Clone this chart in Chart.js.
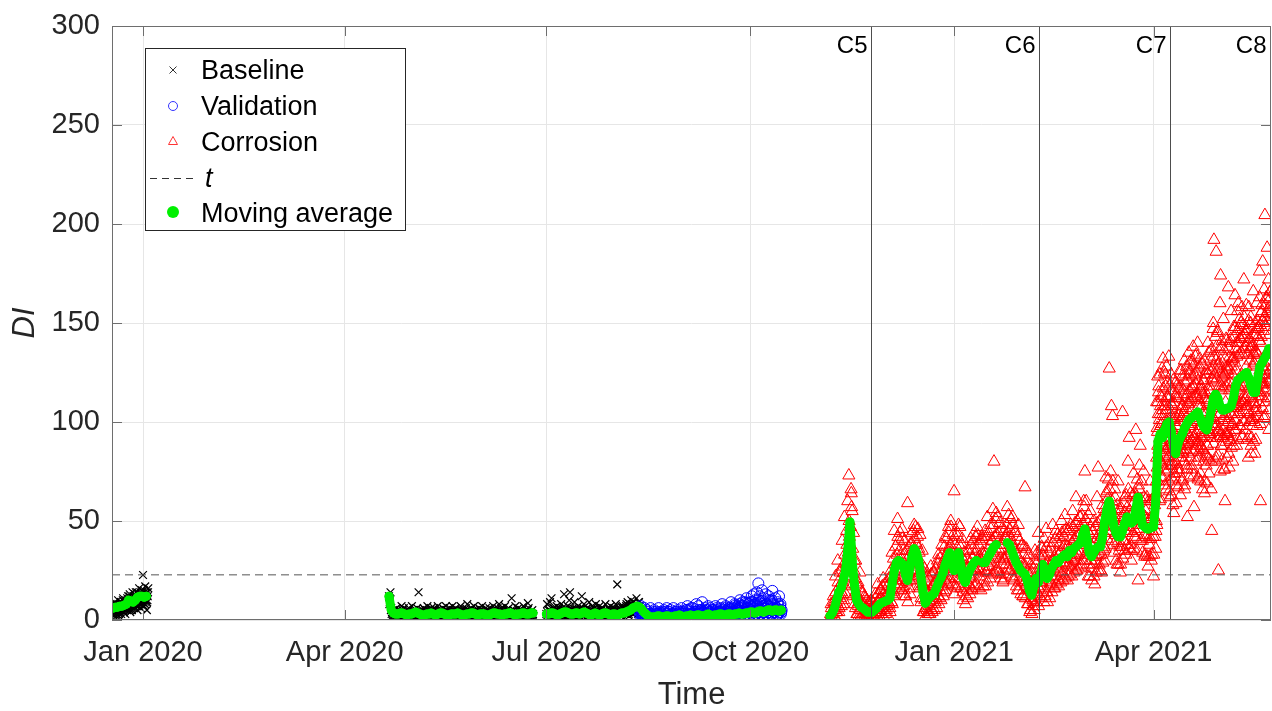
<!DOCTYPE html>
<html lang="en">
<head>
  <meta charset="UTF-8">
  <title>DI over time</title>
  <script src="https://cdn.jsdelivr.net/npm/chart.js"></script>
  <style>
    html, body { margin: 0; padding: 0; background: #fff; overflow: hidden; }
    #wrap { width: 1272px; height: 711px; position: relative; }
    canvas { display: block; }
  </style>
</head>
<body>
  <div id="wrap"><canvas id="diChart"></canvas></div>

  <script>
    // x is counted in days from 1 Jan 2020
    const xMin = -14, xMax = 509;
    const tickDays = [0, 91, 182, 274, 366, 456];
    const tickLabels = ['Jan 2020', 'Apr 2020', 'Jul 2020', 'Oct 2020', 'Jan 2021', 'Apr 2021'];
    const yMin = 0, yMax = 300, yStep = 50;

    const threshold = 22.8;
    const eventDays = [328.3, 404.2, 463.3, 508.7];
    const eventLabels = ['C5', 'C6', 'C7', 'C8'];

    // baseline, December block (from day -13.5, every 6 h, two interleaved runs)
    const baselineDec = [
      3, 7, 5, 9, 4, 8, 2, 6, 6, 10, 5, 3, 7, 4, 9, 6,
      8, 5, 11, 4, 6, 9, 3, 7, 10, 5, 8, 12, 6, 9, 13, 4,
      7, 11, 5, 14, 9, 6, 12, 8, 10, 14, 7, 11, 5, 9, 13, 16,
      8, 12, 6, 10, 15, 9, 22.7, 11, 7, 13, 17, 9, 12, 5, 10, 14
    ];
    const baselineDec2 = [
      5, 2, 8, 4, 6, 3, 7, 5, 4, 8, 2, 6, 5, 9, 3, 7,
      6, 10, 4, 8, 7, 5, 9, 6, 8, 11, 6, 9, 7, 12, 5, 10,
      9, 6, 11, 8, 12, 7, 10, 13, 8, 11, 9, 14, 10, 7, 12, 9,
      11, 14, 8, 13, 10, 12, 9, 15, 11, 8, 13, 10, 14, 9, 12, 16
    ];
    // baseline, spring block (from day 111, every 8 h)
    const baselineSpring = [
      12, 9, 14, 6, 4, 3, 2, 5, 1, 3, 6, 2, 4, 1, 3, 5, 2, 7,
      1, 3, 6, 2, 4, 1, 5, 2, 3, 6, 1, 4, 2, 7, 3, 1, 5, 2,
      4, 2, 6, 3, 14, 1, 5, 2, 4, 1, 3, 6, 2, 5, 1, 4, 7, 3,
      1, 4, 2, 6, 3, 5, 2, 6, 4, 3, 1, 5, 7, 2, 4, 1, 5, 3,
      3, 6, 1, 4, 2, 7, 5, 3, 1, 2, 6, 4, 1, 4, 7, 3, 2, 5,
      6, 2, 4, 1, 5, 3, 3, 7, 2, 5, 1, 4, 2, 4, 6, 3, 8, 1,
      5, 2, 3, 6, 1, 4, 2, 7, 4, 3, 5, 1, 4, 2, 6, 1, 3, 5,
      7, 3, 1, 4, 2, 6, 2, 5, 3, 1, 6, 4, 3, 1, 5, 7, 2, 4,
      5, 3, 2, 6, 1, 8, 2, 4, 6, 3, 5, 1, 4, 7, 2, 5, 1, 3,
      6, 2, 4, 3, 11, 2, 1, 5, 3, 7, 2, 4, 3, 6, 1, 4, 2, 5,
      5, 2, 7, 1, 4, 3, 2, 4, 8.5, 6, 1, 3, 4, 2, 5, 3
    ];
    const baselineSpring2 = [
      8, 10, 5, 3, 2, 4, 1, 2, 3, 1, 4, 2, 3, 1,
      2, 4, 1, 3, 5, 2, 1, 3, 2, 4, 1, 2, 5, 3,
      1, 2, 4, 3, 1, 5, 2, 3, 1, 4, 2, 1, 3, 2,
      4, 1, 2, 5, 3, 1, 2, 4, 1, 3, 2, 5, 1, 3,
      2, 4, 3, 1, 2, 5, 1, 3, 4, 2, 1, 3, 5, 2,
      3, 1, 4, 2, 1, 3, 2, 5, 1, 4, 3, 2, 1, 4,
      2, 3, 1, 5, 2, 4, 1, 3, 2, 1, 4, 3, 2, 5,
      1, 3, 2, 4, 1, 2, 5, 3, 1, 4, 2, 3, 1, 2,
      4, 2, 1, 3, 5, 2, 3, 1, 4, 2, 1, 5, 3, 2,
      1, 4, 3, 2, 1, 3, 5, 2, 4, 1, 3, 2, 1, 4,
      3, 1, 2, 5, 2, 4, 1, 3, 2, 1, 5, 3, 2, 4,
      1, 2, 4, 3, 1, 5, 2, 3, 1, 2, 4, 1, 3, 2,
      5, 3, 1, 4, 2, 3, 1, 2, 5, 1, 3, 4, 2, 1,
      3, 2, 4, 1, 3, 5, 2, 1, 4, 3, 2, 1, 3, 2
    ];
    // baseline, summer block (from day 182, every 8 h)
    const baselineSummer = [
      3, 8, 1, 5, 2, 9, 4, 11, 2, 6, 3, 1, 5, 2, 7, 3, 1, 6,
      2, 4, 8, 1, 5, 3, 13, 2, 6, 4, 1, 7, 3, 10, 14, 2, 5, 1,
      6, 3, 9, 4, 1, 5, 2, 7, 3, 5, 1, 6, 12, 4, 2, 8, 3, 5,
      1, 6, 4, 2, 9, 3, 5, 1, 7, 3, 2, 6, 4, 8, 2, 5, 1, 3,
      7, 3, 5, 2, 6, 1, 4, 2, 8, 3, 5, 1, 6, 3, 2, 7, 4, 1,
      5, 2, 6, 3, 8, 2, 18, 4, 1, 5, 3, 7, 2, 6, 4, 1, 5, 3,
      7, 3, 9, 5, 2, 8, 4, 10, 6, 3, 9, 5, 8, 4, 11, 6, 3, 9,
      7
    ];
    const baselineSummer2 = [
      2, 4, 1, 3, 5, 2, 1, 4, 3, 2, 6, 1, 3, 2,
      4, 1, 5, 3, 2, 4, 1, 6, 2, 3, 1, 5, 4, 2,
      3, 1, 4, 2, 6, 3, 1, 5, 2, 4, 1, 3, 2, 5,
      1, 4, 3, 2, 5, 1, 3, 6, 2, 4, 1, 3, 5, 2,
      4, 2, 1, 5, 3, 2, 4, 1, 6, 3, 2, 4, 1, 3,
      5, 2, 3, 1, 4, 6, 2, 3, 1, 5, 2, 4, 3, 1,
      2, 5, 1, 3, 4, 2, 6, 1, 3, 5, 2, 4, 1, 3,
      6, 4, 2, 5, 3, 7, 4, 6, 3, 5, 8, 4, 6, 3,
      7, 5, 4, 8, 6, 5, 7, 4, 6, 8, 5, 7, 6, 9,
      5
    ];
    // validation (from day 224, every 8 h)
    const validation = [
      5, 2, 7, 3, 1, 4, 2, 6, 1, 3, 5, 0.5, 4, 1, 3, 6, 2, 0.5,
      1, 3, 5, 2, 0.5, 4, 3, 1, 6, 2, 4, 1, 0.5, 3, 2, 5, 1, 4,
      2, 6, 1, 3, 0.5, 4, 5, 1, 3, 2, 6, 1, 3, 0.5, 4, 2, 5, 1,
      1, 4, 2, 6, 3, 0.5, 4, 2, 1, 5, 3, 7, 2, 5, 1, 3, 6, 2,
      6, 3, 1, 4, 2, 8, 1, 4, 7, 3, 2, 5, 5, 9, 2, 4, 1, 6,
      3, 1, 5, 7, 2, 4, 6, 2, 4, 1, 5, 3, 2, 7, 3, 5, 1, 4,
      4, 1, 6, 3, 8, 2, 5, 3, 1, 7, 4, 2, 3, 6, 2, 5, 9, 1,
      6, 2, 4, 8, 3, 5, 4, 7, 2, 6, 10, 3, 7, 3, 9, 5, 2, 8,
      4, 11, 6, 3, 8, 2, 9, 5, 12, 4, 7, 13, 6, 10, 3, 14, 8, 18.5,
      5, 12, 9, 3, 15, 7, 11, 6, 4, 13, 8, 2, 7, 12, 5, 9, 3, 10,
      14.7, 6, 8, 4, 11, 2, 6, 9, 3, 12, 5, 8, 4
    ];
    const validation2 = [
      4, 6, 3, 2, 1, 3, 2, 0.5, 1, 2, 3, 1, 0.5, 2,
      1, 3, 0.5, 2, 1, 4, 2, 0.5, 1, 3, 2, 1, 0.5, 2,
      3, 1, 2, 0.5, 4, 1, 2, 3, 0.5, 1, 2, 4, 1, 0.5,
      2, 1, 3, 2, 0.5, 1, 4, 2, 1, 3, 0.5, 2, 1, 3,
      2, 4, 1, 0.5, 3, 2, 1, 5, 2, 1, 3, 0.5, 2, 4,
      1, 3, 2, 1, 4, 0.5, 2, 3, 1, 5, 2, 1, 3, 2,
      4, 1, 2, 3, 0.5, 5, 2, 1, 3, 4, 2, 1, 3, 2,
      5, 1, 3, 2, 4, 1, 6, 2, 3, 1, 4, 2, 5, 3,
      2, 4, 1, 6, 3, 2, 5, 1, 4, 3, 6, 2, 4, 1,
      5, 3, 7, 2, 4, 6, 3, 1, 5, 8, 2, 4, 6, 3,
      7, 2, 5, 9, 4, 3, 6, 8, 2, 5, 7, 3, 9, 4,
      6, 2, 8, 5, 3, 7, 4, 10, 6, 3, 8, 5, 2, 7,
      4, 9, 6, 3, 8, 5, 7, 4, 10, 6, 3, 8, 5, 6,
      4, 7, 5, 6, 3, 8, 5, 4, 7, 3, 5
    ];
    // corrosion, first part (from day 310, every 12 h, three interleaved runs)
    const corrosionA = [
      1, 8, 3, 12, 5, 22, 9, 30, 4, 25,
      14, 40, 8, 52, 22, 45, 60, 73, 38, 66,
      55, 12, 30, 6, 18, 3, 9, 24, 2, 14,
      7, 1, 11, 3, 2, 8, 5, 1, 9, 3,
      2, 13, 7, 18, 4, 11, 15, 6, 21, 9,
      12, 5, 17, 8, 6, 25, 34, 12, 45, 20,
      28, 51, 40, 18, 24, 46, 35, 15, 12, 30,
      59, 22, 20, 38, 44, 27, 48, 30, 25, 42,
      36, 16, 9, 28, 18, 4, 6, 14, 22, 3,
      12, 27, 5, 18, 24, 9, 15, 30, 33, 11,
      20, 38, 29, 14, 42, 22, 18, 47, 36, 50,
      26, 40, 65, 17, 31, 44, 48, 24, 20, 38,
      14, 30, 27, 12, 35, 18, 22, 41, 16, 36,
      44, 25, 29, 47, 38, 22, 26, 42, 33, 20,
      45, 24, 52, 30, 27, 48, 40, 56, 80, 32,
      54, 26, 44, 35, 23, 38, 19, 31, 42, 28,
      57, 33, 46, 25, 38, 52, 21, 44, 30, 15,
      48, 19, 26, 37, 12, 33, 67, 20, 30, 8,
      16, 5, 24, 10, 7, 35, 28, 14, 44, 12,
      19, 37, 33, 9, 26, 46, 14, 30, 39, 18,
      22, 48, 30, 16, 45, 26, 20, 38, 34, 50,
      24, 42, 53, 29, 31, 22, 46, 36, 27, 55,
      40, 30, 62, 25, 33, 47, 52, 28, 38, 60,
      75, 30, 45, 22, 36, 55, 26, 44, 50, 18,
      32, 62, 77, 28, 41, 24, 58, 35, 30, 72,
      65, 44, 127, 50, 108, 103, 38, 66, 55, 28,
      70, 35, 24, 52, 105, 40, 62, 33, 45, 80,
      92, 38, 30, 58, 74, 42, 96, 35, 20, 66,
      88, 48, 40, 75, 32, 55, 62, 27, 38, 70,
      30, 45, 22, 58, 36
    ];
    const corrosionA2 = [
      3, 1, 5, 2, 8, 4, 12, 7, 17, 11,
      19, 13, 24, 17, 28, 21, 34, 42, 47, 57,
      36, 25, 21, 14, 12, 7, 10, 5, 8, 3,
      8, 3, 6, 2, 4, 7, 3, 5, 2, 6,
      7, 3, 9, 4, 10, 5, 11, 7, 13, 6,
      12, 7, 14, 8, 15, 9, 21, 14, 28, 20,
      33, 25, 35, 26, 31, 23, 33, 24, 27, 19,
      24, 16, 29, 22, 36, 28, 41, 32, 38, 30,
      34, 25, 26, 18, 17, 10, 11, 5, 14, 7,
      15, 8, 17, 10, 18, 11, 20, 12, 23, 15,
      25, 17, 28, 20, 32, 24, 35, 27, 38, 30,
      34, 26, 29, 21, 33, 25, 38, 30, 32, 23,
      25, 17, 23, 15, 26, 18, 29, 21, 31, 23,
      33, 25, 35, 26, 32, 24, 30, 34, 33, 25,
      33, 25, 35, 27, 38, 29, 40, 31, 42, 33,
      43, 34, 40, 31, 36, 28, 38, 30, 41, 32,
      44, 35, 42, 34, 39, 31, 36, 27, 33, 24,
      31, 22, 29, 20, 28, 19, 27, 18, 24, 16,
      19, 11, 16, 9, 21, 13, 25, 17, 23, 15,
      27, 19, 32, 24, 28, 20, 25, 17, 27, 19,
      30, 22, 32, 24, 34, 26, 33, 25, 35, 27,
      37, 28, 38, 29, 37, 28, 40, 31, 39, 30,
      41, 32, 42, 33, 43, 34, 44, 35, 48, 38,
      51, 41, 45, 36, 39, 30, 37, 28, 39, 30,
      41, 32, 43, 33, 42, 33, 47, 37, 55, 45,
      61, 50, 66, 55, 60, 50, 53, 43, 49, 39,
      47, 37, 47, 37, 50, 40, 54, 44, 57, 47,
      55, 45, 54, 44, 55, 45, 62, 51, 68, 56,
      61, 50, 53, 43, 52, 42, 51, 41, 51, 41,
      52, 42, 52, 42, 50
    ];
    const corrosionA3 = [
      0.5, 6, 1, 9, 2, 14, 4, 19, 6, 24,
      7, 27, 10, 33, 13, 38, 22, 50, 33, 64,
      18, 44, 8, 30, 3, 19, 2, 16, 1, 13,
      1, 12, 0.5, 10, 1, 9, 0.5, 10, 1, 8,
      1, 11, 2, 13, 2, 15, 3, 17, 2, 18,
      3, 19, 2, 21, 4, 22, 8, 31, 13, 37,
      16, 42, 18, 44, 15, 41, 17, 40, 12, 35,
      9, 32, 13, 39, 20, 45, 24, 47, 21, 46,
      17, 43, 11, 35, 4, 26, 2, 19, 3, 21,
      3, 23, 4, 24, 5, 26, 6, 28, 8, 31,
      10, 33, 12, 37, 15, 41, 19, 44, 21, 47,
      18, 43, 13, 38, 16, 42, 21, 47, 16, 41,
      10, 34, 8, 31, 11, 35, 13, 38, 15, 40,
      17, 42, 18, 43, 16, 40, 15, 41, 17, 42,
      17, 42, 19, 44, 21, 46, 23, 48, 24, 51,
      25, 52, 24, 49, 21, 46, 20, 45, 23, 48,
      26, 53, 25, 51, 22, 48, 20, 45, 17, 42,
      15, 40, 13, 38, 12, 37, 11, 36, 8, 33,
      4, 28, 3, 26, 5, 30, 9, 34, 7, 32,
      11, 36, 16, 41, 12, 37, 9, 34, 11, 36,
      14, 39, 16, 41, 18, 43, 17, 42, 19, 44,
      20, 45, 21, 46, 20, 45, 23, 48, 22, 47,
      24, 49, 25, 50, 26, 52, 27, 53, 30, 57,
      33, 60, 28, 53, 22, 47, 20, 45, 22, 47,
      24, 49, 25, 50, 25, 51, 29, 56, 36, 64,
      41, 71, 45, 75, 40, 70, 34, 62, 30, 58,
      28, 56, 28, 56, 31, 59, 35, 63, 38, 66,
      36, 64, 35, 63, 36, 64, 41, 71, 46, 78,
      40, 70, 34, 62, 33, 61, 32, 60, 32, 60,
      33, 61, 33, 61, 45
    ];
    // corrosion, second part (from day 457.25, every 6 h, three interleaved runs)
    const corrosionB = [
      70, 48, 95, 110, 115, 82, 60, 104, 98, 72, 112, 88,
      132, 90, 76, 108, 85, 118, 66, 100, 112, 78, 95, 70,
      62, 104, 88, 116, 80, 96, 58, 110, 102, 74, 90, 120,
      68, 112, 84, 98, 117, 76, 104, 88, 92, 126, 70, 108,
      84, 114, 96, 66, 120, 88, 102, 78, 52, 110, 94, 124,
      98, 130, 82, 112, 76, 106, 118, 92, 57, 124, 100, 86,
      134, 90, 112, 72, 108, 82, 128, 96, 70, 116, 92, 104,
      100, 86, 121, 64, 124, 96, 78, 110, 88, 140, 102, 74,
      118, 92, 132, 66, 45, 126, 108, 150, 192, 98, 120, 80,
      186, 112, 145, 92, 25, 130, 104, 160, 174, 88, 118, 138,
      96, 152, 76, 124, 60, 110, 142, 94, 128, 100, 168, 84,
      116, 140, 90, 156, 104, 132, 80, 120, 148, 96, 164, 112,
      126, 88, 136, 104, 160, 118, 98, 142, 110, 150, 124, 92,
      134, 100, 172, 118, 96, 146, 128, 108, 140, 114, 82, 158,
      122, 100, 150, 88, 92, 138, 112, 166, 130, 106, 84, 144,
      118, 160, 98, 134, 148, 110, 176, 126, 60, 140, 120, 156,
      181, 128, 102, 150, 204.5, 134, 110, 162, 188, 120, 150, 96,
      144, 126, 166, 112
    ];
    const corrosionB2 = [
      82, 97, 88, 104, 86, 101, 92, 108, 80, 99, 94, 106,
      88, 103, 92, 110, 91, 106, 97, 113, 87, 108, 96, 112,
      84, 102, 90, 109, 78, 96, 85, 101, 74, 92, 80, 98,
      79, 97, 86, 103, 82, 100, 88, 106, 85, 102, 91, 108,
      86, 105, 93, 111, 89, 107, 95, 114, 90, 109, 98, 116,
      92, 110, 99, 117, 91, 112, 100, 118, 93, 113, 101, 119,
      94, 114, 102, 121, 90, 111, 98, 117, 88, 108, 95, 114,
      86, 105, 93, 112, 84, 104, 92, 111, 88, 109, 96, 116,
      94, 115, 102, 122, 99, 121, 108, 128, 101, 124, 110, 131,
      98, 122, 107, 129, 95, 118, 104, 125, 93, 116, 101, 123,
      92, 117, 102, 124, 94, 118, 103, 126, 93, 119, 102, 127,
      95, 120, 104, 128, 98, 124, 107, 132, 104, 130, 113, 137,
      107, 133, 116, 140, 108, 134, 117, 142, 109, 135, 118, 143,
      110, 137, 119, 144, 111, 138, 120, 146, 108, 134, 117, 142,
      104, 131, 113, 138, 101, 128, 110, 135, 100, 129, 109, 136,
      107, 135, 116, 143, 113, 141, 122, 149, 115, 143, 124, 151,
      117, 146, 126, 153, 119, 148, 128, 155, 122, 151, 131, 158,
      121, 150, 130, 157
    ];
    const corrosionB3 = [
      64, 110, 77, 123, 70, 118, 81, 124, 61, 113, 79, 127,
      72, 117, 83, 125, 68, 124, 86, 128, 75, 120, 82, 133,
      65, 119, 78, 124, 63, 108, 71, 121, 54, 104, 72, 113,
      59, 114, 76, 119, 67, 112, 74, 126, 63, 118, 82, 123,
      71, 116, 80, 131, 68, 124, 86, 128, 76, 121, 84, 135,
      72, 126, 89, 131, 78, 123, 85, 138, 73, 129, 91, 133,
      80, 125, 88, 140, 71, 127, 85, 132, 74, 118, 87, 129,
      66, 121, 80, 131, 70, 115, 83, 126, 69, 124, 82, 135,
      81, 126, 94, 136, 80, 137, 95, 147, 89, 133, 101, 143,
      82, 138, 95, 146, 83, 127, 96, 137, 75, 131, 88, 141,
      81, 125, 93, 136, 76, 132, 90, 141, 82, 126, 94, 137,
      77, 133, 91, 142, 87, 131, 99, 146, 88, 143, 101, 148,
      96, 140, 108, 156, 91, 147, 105, 152, 98, 142, 111, 158,
      93, 149, 106, 153, 100, 144, 112, 159, 91, 147, 105, 151,
      93, 137, 101, 153, 84, 140, 98, 144, 90, 134, 102, 150,
      91, 147, 105, 151, 103, 147, 115, 163, 99, 155, 113, 159,
      107, 151, 119, 167, 103, 159, 116, 163, 112, 156, 124, 172,
      106, 162, 120, 166
    ];

    // moving average, one value per day (null = no data)
    const maDec = [6, 6.5, 6.5, 7, 7, 7.5, 8, 10, 9.5, 9, 10, 11.5, 12, 12, 11.5, 12];
    const maSpring = [
      12, 5, 3.5, 3, 3, 3.5, 3.5, 3, 2.5, 3,
      3, 3.5, 4, 3.5, 3, 2.5, 2.5, 3, 3, 3.5,
      3, 2.5, 3, 3.5, 3.5, 3, 2.5, 2.5, 3, 3,
      3, 3.5, 3, 2.5, 2.5, 3, 3, 3.5, 3.5, 3,
      2.5, 3, 3, 3, 2.5, 2.5, 3, 3.5, 3.5, 3,
      3, 2.5, 3, 3, 3.5, 3.5, 3, 2.5, 3, 3,
      3.5, 3.5, 3, 3, 3.5, 3.5
    ];
    const maSummer = [
      3, 3, 3.5, 3.5, 3, 2.5, 3, 3.5, 4, 4,
      3.5, 3, 3, 3.5, 3.5, 3, 3.5, 4, 3.5, 3,
      2.5, 3, 3.5, 3, 2.5, 3, 3.5, 3.5, 3, 2.5,
      3, 3, 2.5, 3, 3.5, 3.5, 4, 4.5, 5, 6,
      6.5, 7, 6.5
    ];
    const maValid = [
      6.5, 5.5, 4, 3, 2, 1.5, 1.5, 1.5, 2, 2,
      1.5, 1.5, 2, 2, 1.5, 1.5, 2, 2, 2.5, 2,
      1.5, 2, 2, 2.5, 2, 2, 2.5, 2.5, 2, 2,
      2.5, 3, 2.5, 2, 2.5, 2.5, 3, 3, 2.5, 2.5,
      3, 3, 2.5, 3, 3, 3.5, 3, 3, 3.5, 3.5,
      4, 4, 3.5, 4, 4.5, 4.5, 4, 4.5, 5, 5,
      4.5, 5, 5, 4.5, 5
    ];
    const maCorrosion = [
      2, 3.5, 6, 10, 14, 16, 20, 25, 35, 49.5,
      30, 18, 10, 8, 6.5, 6, 5, 4, 4, 4,
      5, 6, 7.5, 8.5, 9, 9.5, 10, 11, 18, 25,
      29, 30, 29, 28, 23, 20, 26, 32, 36, 34,
      30, 22, 14, 8.5, 10, 11.5, 12.5, 13.5, 16, 19,
      21, 24, 28, 31, 34, 30, 25, 29, 34, 28,
      21, 19, 22, 25, 27, 29, 30, null, null, 29,
      29, 31, 33, 35, 37, 38, null, null, null, null,
      39, 38, 35, 32, 29, 27, 25, 24, 23, 20,
      15, 12.6, 17, 21, 19, 23, 28, 24, 21, 23,
      26, 28, 30, 29, 31, 32, 33, 32, 35, 34,
      36, 37, 38, 39, 43, 46, 40, 34, 32, 34,
      36, 37, 37, 42, 50, 56, 60, 55, 48, 44,
      42, 42, 45, 49, 52, 50, 49, 50, 56, 62,
      55, 48, 47, 46, 46, 47, 47, 60, 90, 94,
      92, 96, 99, 100, 95, 88, 84, 89, 92, 94,
      97, 99, 101, 102, 103, 104, 105, 102, 99, 97,
      96, 100, 106, 112, 114, 112, 108, 106, 106, 107,
      107, 108, 112, 118, 121, 122, 123, 124, 125, 122,
      118, 115, 115, 122, 128, 130, 132, 134, 137, 137
    ];

    // first day and sampling step of each block
    function toPoints(start, step, values) {
      return values.map((v, i) => ({ x: start + i * step, y: v }));
    }

    const baselinePts = [
      ...toPoints(-13.5, 0.25, baselineDec),
      ...toPoints(-13.375, 0.25, baselineDec2),
      ...toPoints(111, 1 / 3, baselineSpring),
      ...toPoints(111 + 1 / 6, 1 / 3, baselineSpring2),
      ...toPoints(182, 1 / 3, baselineSummer),
      ...toPoints(182 + 1 / 6, 1 / 3, baselineSummer2)
    ];
    const validationPts = [
      ...toPoints(224, 1 / 3, validation),
      ...toPoints(224 + 1 / 6, 1 / 3, validation2)
    ];
    const corrosionPts = [
      ...toPoints(310, 0.5, corrosionA),
      ...toPoints(310.25, 0.5, corrosionA2),
      ...toPoints(310.125, 0.5, corrosionA3),
      ...toPoints(457.25, 0.25, corrosionB),
      ...toPoints(457.375, 0.25, corrosionB2),
      ...toPoints(457.125, 0.25, corrosionB3)
    ];
    // blocks are separated by a null so the average line breaks between them
    const gap = (x) => [{ x: x, y: null }];
    const maPts = [
      ...toPoints(-13.5, 1, maDec), ...gap(50),
      ...toPoints(111, 1, maSpring), ...gap(179),
      ...toPoints(182, 1, maSummer),
      ...toPoints(224, 1, maValid), ...gap(300),
      ...toPoints(310, 1, maCorrosion)
    ];

    const FONT = '"Liberation Sans", Arial, Helvetica, sans-serif';
    const INK = '#262626';
    const GREEN = '#00f000';

    // axes box, inner tick marks, event lines and the legend box
    const framePlugin = {
      id: 'frame',
      afterDatasetsDraw(chart) {
        const { ctx, chartArea: a, scales } = chart;
        const xs = scales.x, ys = scales.y;
        ctx.save();

        // event lines with labels
        ctx.strokeStyle = '#4d4d4d';
        ctx.lineWidth = 1;
        ctx.fillStyle = '#000';
        ctx.font = '24px ' + FONT;
        ctx.textAlign = 'right';
        ctx.textBaseline = 'alphabetic';
        eventDays.forEach((d, i) => {
          const px = Math.round(xs.getPixelForValue(d)) + 0.5;
          ctx.beginPath();
          ctx.moveTo(px, a.top);
          ctx.lineTo(px, a.bottom);
          ctx.stroke();
          ctx.fillText(eventLabels[i], px - 4, a.top + 27);
        });

        // box and inner ticks
        ctx.strokeStyle = '#6e6e6e';
        ctx.strokeRect(a.left + 0.5, a.top + 0.5, a.right - a.left - 1, a.bottom - a.top - 1);
        ctx.beginPath();
        tickDays.forEach(d => {
          const px = Math.round(xs.getPixelForValue(d)) + 0.5;
          ctx.moveTo(px, a.bottom); ctx.lineTo(px, a.bottom - 10);
          ctx.moveTo(px, a.top); ctx.lineTo(px, a.top + 10);
        });
        for (let v = yMin; v <= yMax; v += yStep) {
          const py = Math.round(ys.getPixelForValue(v)) + 0.5;
          ctx.moveTo(a.left, py); ctx.lineTo(a.left + 10, py);
          ctx.moveTo(a.right, py); ctx.lineTo(a.right - 10, py);
        }
        ctx.stroke();
        ctx.restore();
      },
      afterDraw(chart) {
        const ctx = chart.ctx;
        const left = 145.5, top = 48.5, w = 260, h = 182;
        const symX = 173, textX = 201;
        const rows = [79, 115, 151, 187, 222];
        ctx.save();
        ctx.fillStyle = '#fff';
        ctx.fillRect(left, top, w, h);
        ctx.strokeStyle = '#262626';
        ctx.lineWidth = 1;
        ctx.strokeRect(left, top, w, h);

        ctx.fillStyle = '#000';
        ctx.textAlign = 'left';
        ctx.textBaseline = 'alphabetic';
        ctx.font = '27px ' + FONT;
        ctx.fillText('Baseline', textX, rows[0]);
        ctx.fillText('Validation', textX, rows[1]);
        ctx.fillText('Corrosion', textX, rows[2]);
        ctx.fillText('Moving average', textX, rows[4]);
        ctx.font = 'italic 27px ' + FONT;
        ctx.fillText('t', textX + 4, rows[3]);

        // symbols
        let cy = rows[0] - 9;
        ctx.strokeStyle = '#333';
        ctx.beginPath();
        ctx.moveTo(symX - 3.5, cy - 3.5); ctx.lineTo(symX + 3.5, cy + 3.5);
        ctx.moveTo(symX - 3.5, cy + 3.5); ctx.lineTo(symX + 3.5, cy - 3.5);
        ctx.stroke();

        cy = rows[1] - 9;
        ctx.strokeStyle = '#3333ff';
        ctx.beginPath();
        ctx.arc(symX, cy, 4.5, 0, Math.PI * 2);
        ctx.stroke();

        cy = rows[2] - 10;
        ctx.strokeStyle = '#ff3333';
        ctx.beginPath();
        ctx.moveTo(symX, cy - 4.5);
        ctx.lineTo(symX + 4.5, cy + 3.5);
        ctx.lineTo(symX - 4.5, cy + 3.5);
        ctx.closePath();
        ctx.stroke();

        cy = rows[3] - 9;
        ctx.strokeStyle = '#333';
        ctx.setLineDash([7, 5]);
        ctx.beginPath();
        ctx.moveTo(150, cy + 0.5); ctx.lineTo(196, cy + 0.5);
        ctx.stroke();
        ctx.setLineDash([]);

        cy = rows[4] - 10;
        ctx.fillStyle = GREEN;
        ctx.beginPath();
        ctx.arc(symX, cy, 6, 0, Math.PI * 2);
        ctx.fill();
        ctx.restore();
      }
    };

    new Chart(document.getElementById('diChart'), {
      type: 'scatter',
      data: {
        datasets: [
          {
            label: 'Moving average',
            data: maPts,
            showLine: true,
            spanGaps: false,
            borderColor: GREEN,
            backgroundColor: GREEN,
            borderWidth: 9,
            borderJoinStyle: 'round',
            borderCapStyle: 'round',
            pointRadius: 4.5,
            pointBorderWidth: 0,
            order: 0
          },
          {
            label: 't',
            data: [{ x: xMin, y: threshold }, { x: xMax, y: threshold }],
            showLine: true,
            borderColor: '#555',
            borderWidth: 1,
            borderDash: [8, 5],
            pointRadius: 0,
            order: 1
          },
          {
            label: 'Corrosion',
            data: corrosionPts,
            pointStyle: 'triangle',
            pointRadius: 7,
            pointBorderWidth: 1,
            borderColor: 'rgb(255, 0, 0)',
            backgroundColor: 'rgba(255, 0, 0, 0)',
            order: 2
          },
          {
            label: 'Validation',
            data: validationPts,
            pointStyle: 'circle',
            pointRadius: 5.5,
            pointBorderWidth: 1,
            borderColor: 'rgb(0, 0, 255)',
            backgroundColor: 'rgba(0, 0, 255, 0)',
            order: 3
          },
          {
            label: 'Baseline',
            data: baselinePts,
            pointStyle: 'crossRot',
            pointRadius: 5.5,
            pointBorderWidth: 1.2,
            borderColor: 'rgb(0, 0, 0)',
            backgroundColor: 'rgba(0, 0, 0, 0)',
            order: 4
          }
        ]
      },
      options: {
        responsive: true,
        maintainAspectRatio: false,
        animation: false,
        events: [],
        layout: {
          autoPadding: false,
          padding: { top: 26, right: 1, bottom: 0, left: 0 }
        },
        plugins: {
          legend: { display: false },
          tooltip: { enabled: false }
        },
        scales: {
          x: {
            type: 'linear',
            min: xMin,
            max: xMax,
            afterBuildTicks: s => { s.ticks = tickDays.map(v => ({ value: v })); },
            afterFit: s => { s.height = 91; s.paddingLeft = 0; s.paddingRight = 0; },
            grid: { color: '#e6e6e6', drawTicks: false },
            border: { display: false },
            ticks: {
              autoSkip: false,
              maxRotation: 0,
              padding: 16,
              color: INK,
              font: { family: FONT, size: 29 },
              callback: v => tickLabels[tickDays.indexOf(v)]
            },
            title: {
              display: true,
              text: 'Time',
              color: INK,
              font: { family: FONT, size: 31, lineHeight: 1 },
              padding: { top: 0, bottom: 0 }
            }
          },
          y: {
            min: yMin,
            max: yMax,
            afterFit: s => { s.width = 112; s.paddingTop = 0; s.paddingBottom = 0; },
            grid: { color: '#e6e6e6', drawTicks: false },
            border: { display: false },
            ticks: {
              stepSize: yStep,
              padding: 12,
              color: INK,
              font: { family: FONT, size: 29 }
            },
            title: {
              display: true,
              text: 'DI',
              color: INK,
              font: { family: FONT, size: 31, style: 'italic' },
              padding: { top: 7, bottom: 0 }
            }
          }
        }
      },
      plugins: [framePlugin]
    });
  </script>
</body>
</html>
